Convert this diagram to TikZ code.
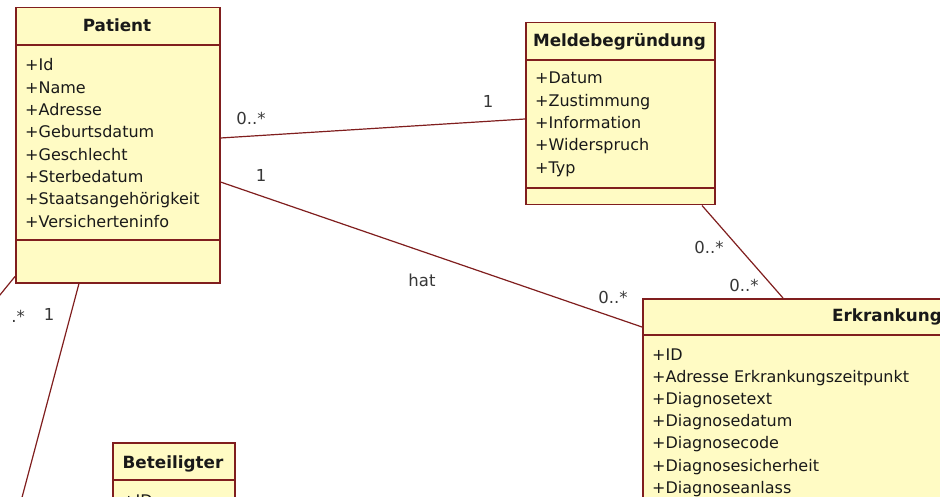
\documentclass[tikz,border=0pt]{standalone}
\usepackage{fontspec}
\setmainfont{DejaVu Sans}
\usetikzlibrary{calc}
\definecolor{umlfill}{RGB}{255,251,196}
\definecolor{umlline}{RGB}{128,30,30}
\definecolor{umltext}{RGB}{25,25,25}
\definecolor{multtext}{RGB}{55,55,55}
\begin{document}
\begin{tikzpicture}[x=1pt,y=-1pt,
  classbox/.style={draw=umlline, fill=umlfill, line width=1.5pt, rectangle, inner sep=0pt, anchor=north west},
  ctitle/.style={font=\fontsize{16.8}{20}\selectfont\bfseries, text=umltext, inner sep=0pt},
  attr/.style={font=\fontsize{16}{19}\selectfont, text=umltext, inner sep=0pt, anchor=base west},
  mult/.style={font=\fontsize{16.5}{19}\selectfont, text=multtext, inner sep=0pt},
  assoc/.style={draw=umlline, line width=1.2pt},
  divider/.style={draw=umlline, line width=1.5pt}]
\useasboundingbox (0,0) rectangle (940,497);
\fill[white] (0,0) rectangle (940,497);
\clip (0,0) rectangle (940,497);

% ---------- class boxes ----------
\node[classbox, minimum width=204pt, minimum height=275pt] (patient) at (15,7) {};
\draw[divider] ($(patient.north west)+(0,38)$) -- ($(patient.north east)+(0,38)$);
\draw[divider] ($(patient.north west)+(0,233)$) -- ($(patient.north east)+(0,233)$);
\node[ctitle, anchor=base] (patientT) at (117,32) {Patient};
\foreach \t [count=\i] in {+Id,+Name,+Adresse,+Geburtsdatum,+Geschlecht,+Sterbedatum,+Staatsangehörigkeit,+Versicherteninfo}
  \node[attr] (pa\i) at (25,{71+22.3*(\i-1)}) {\t};

\node[classbox, minimum width=189pt, minimum height=182pt] (meld) at (525,22) {};
\draw[divider] ($(meld.north west)+(0,38)$) -- ($(meld.north east)+(0,38)$);
\draw[divider] ($(meld.north west)+(0,166)$) -- ($(meld.north east)+(0,166)$);
\node[ctitle, anchor=base] (meldT) at (619.5,47) {Meldebegründung};
\foreach \t [count=\i] in {+Datum,+Zustimmung,+Information,+Widerspruch,+Typ}
  \node[attr] (ma\i) at (535,{84+22.3*(\i-1)}) {\t};

\node[classbox, minimum width=490pt, minimum height=400pt] (erk) at (642,298) {};
\draw[divider] ($(erk.north west)+(0,37)$) -- ($(erk.north east)+(0,37)$);
\node[ctitle, anchor=base west] (erkT) at (832,321) {Erkrankung};
\foreach \t [count=\i] in {+ID,+Adresse Erkrankungszeitpunkt,+Diagnosetext,+Diagnosedatum,+Diagnosecode,+Diagnosesicherheit,+Diagnoseanlass}
  \node[attr] (ea\i) at (652,{360+22.2*(\i-1)}) {\t};

\node[classbox, minimum width=122pt, minimum height=200pt] (bet) at (112,442) {};
\draw[divider] ($(bet.north west)+(0,38)$) -- ($(bet.north east)+(0,38)$);
\node[ctitle, anchor=base] (betT) at (173,468) {Beteiligter};
\node[attr] (ba1) at (122,506) {+ID};

% ---------- connectors ----------
\coordinate (offA) at (0,580);
\coordinate (offB) at (-40,344);
\draw[assoc] ($(patient.north east)+(0,131)$) -- ($(meld.north west)+(0,97)$);
\draw[assoc] ($(patient.north east)+(0,175)$) -- ($(erk.north west)+(0,29)$);
\draw[assoc] ($(meld.south west)+(177,0)$) -- ($(erk.north west)+(141,0)$);
\draw[assoc] ($(patient.south west)+(64,0)$) -- (offA);
\draw[assoc] ($(patient.south west)+(0,-7)$) -- (offB);

% ---------- labels ----------
\node[mult] (m1) at (251,118) {0..*};
\node[mult] (m2) at (488,101) {1};
\node[mult] (m3) at (261,175) {1};
\node[mult] (m4) at (422,280) {hat};
\node[mult] (m5) at (613,297) {0..*};
\node[mult] (m6) at (709,247) {0..*};
\node[mult] (m7) at (744,285) {0..*};
\node[mult] (m8) at (49,314) {1};
\node[mult] (m9) at (18,316) {.*};
\end{tikzpicture}
\end{document}
